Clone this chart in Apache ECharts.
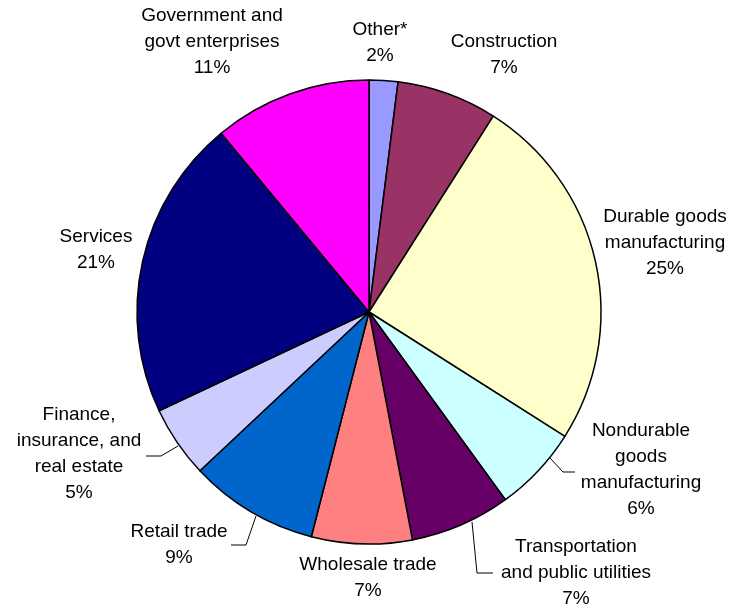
<!DOCTYPE html>
<html>
<head>
<meta charset="utf-8">
<script src="https://cdn.jsdelivr.net/npm/echarts@6/dist/echarts.min.js"></script>
<style>
  html, body { margin: 0; padding: 0; background: #fff; }
  #chart { width: 733px; height: 610px; }
</style>
</head>
<body>
<div id="chart"></div>
<script>
// Industry shares, clockwise from 12 o'clock
const sectors = [
  'Other*',
  'Construction',
  'Durable goods\nmanufacturing',
  'Nondurable\ngoods\nmanufacturing',
  'Transportation\nand public utilities',
  'Wholesale trade',
  'Retail trade',
  'Finance,\ninsurance, and\nreal estate',
  'Services',
  'Government and\ngovt enterprises'
];
const shares = [2, 7, 25, 6, 7, 7, 9, 5, 21, 11];
const sliceColors = [
  '#9999FF', '#993366', '#FFFFCC', '#CCFFFF', '#660066',
  '#FF8080', '#0066CC', '#CCCCFF', '#000080', '#FF00FF'
];

// Label block centres and optional leader lines (rim point, bend, end)
const labelPlacement = [
  { x: 380, y: 43 },
  { x: 504, y: 55 },
  { x: 665, y: 243 },
  { x: 641, y: 470, line: [[550, 458], [563, 472], [575, 472]] },
  { x: 576, y: 573, line: [[472, 522], [477, 573], [493, 573]] },
  { x: 368, y: 578 },
  { x: 179, y: 545, line: [[256, 516], [246, 545], [231, 545]] },
  { x: 79, y: 454, line: [[178, 446], [161, 456], [146, 456]] },
  { x: 96, y: 250 },
  { x: 212, y: 42 }
];

const chart = echarts.init(document.getElementById('chart'), null, { renderer: 'canvas' });

const data = sectors.map((name, i) => ({
  name: name,
  value: shares[i],
  itemStyle: { color: sliceColors[i] },
  labelLine: { show: !!labelPlacement[i].line }
}));

chart.setOption({
  animation: false,
  backgroundColor: '#ffffff',
  series: [{
    type: 'pie',
    center: [369, 312],
    radius: 232,
    startAngle: 90,
    clockwise: true,
    avoidLabelOverlap: false,
    data: data,
    itemStyle: { borderColor: '#000000', borderWidth: 1.5 },
    label: {
      show: true,
      position: 'outside',
      formatter: p => p.name + '\n' + p.value + '%',
      fontFamily: '"Liberation Sans", Arial, sans-serif',
      fontSize: 19,
      lineHeight: 26,
      color: '#000000',
      align: 'center'
    },
    labelLine: {
      show: true,
      lineStyle: { color: '#000000', width: 1 }
    },
    labelLayout: function (params) {
      const p = labelPlacement[params.dataIndex];
      const out = { x: p.x, y: p.y, align: 'center', verticalAlign: 'middle' };
      if (p.line) {
        out.labelLinePoints = p.line;
      }
      return out;
    },
    emphasis: { disabled: true }
  }]
});
</script>
</body>
</html>
